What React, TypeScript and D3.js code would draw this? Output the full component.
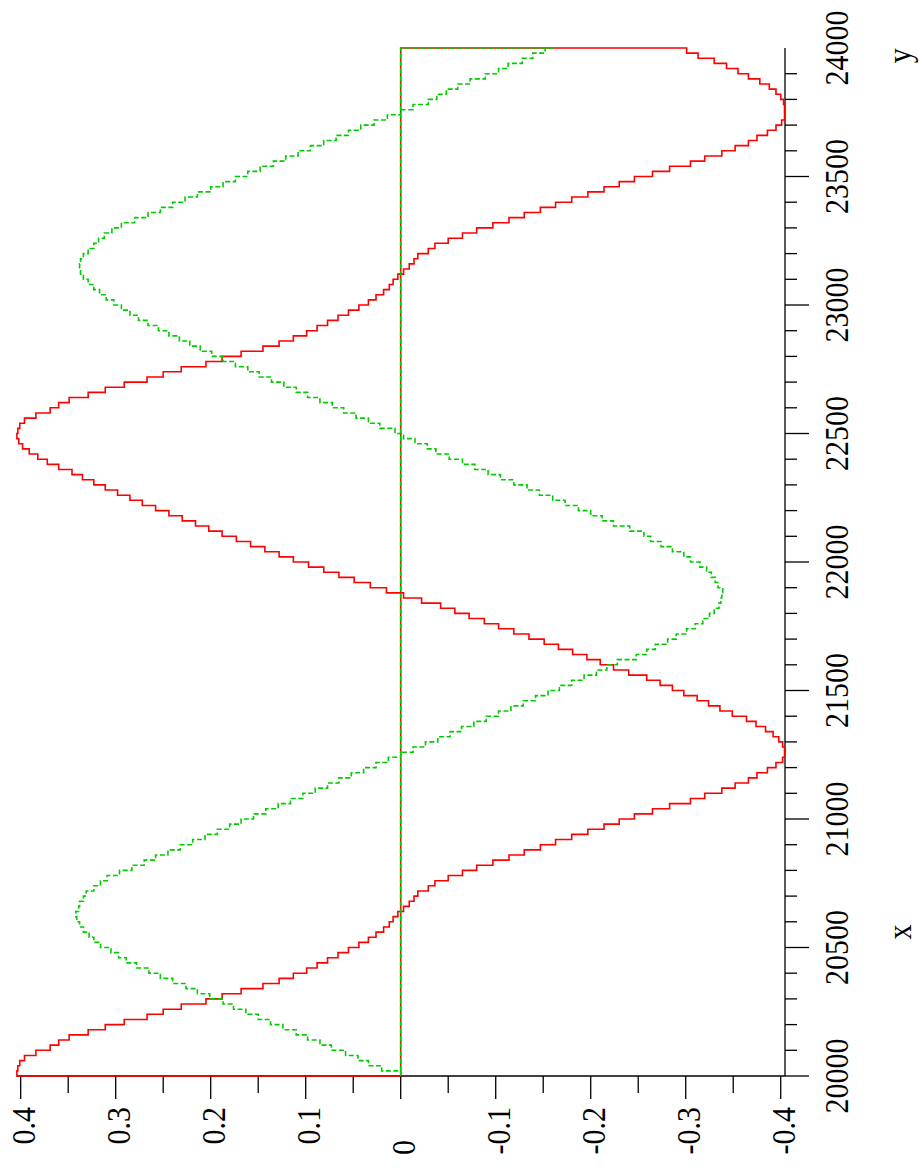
import React from 'react';
import * as d3 from 'd3';

const xStart = 20000;
const xStep = 20;

const redValues = [
  0.404, 0.403, 0.401, 0.396, 0.384, 0.369, 0.360, 0.349, 0.329, 0.311,
  0.291, 0.267, 0.250, 0.231, 0.205, 0.188, 0.168, 0.145, 0.128, 0.113,
  0.099, 0.088, 0.077, 0.066, 0.055, 0.044, 0.034, 0.026, 0.018, 0.012,
  0.008, 0.003, -0.003, -0.009, -0.014, -0.018, -0.029, -0.036, -0.050, -0.065,
  -0.080, -0.097, -0.114, -0.130, -0.147, -0.163, -0.180, -0.197, -0.214, -0.230,
  -0.246, -0.265, -0.283, -0.305, -0.320, -0.338, -0.352, -0.366, -0.375, -0.386,
  -0.395, -0.402, -0.404, -0.404, -0.402, -0.398, -0.392, -0.384, -0.374, -0.364,
  -0.349, -0.336, -0.324, -0.312, -0.298, -0.286, -0.273, -0.259, -0.240, -0.224,
  -0.210, -0.196, -0.181, -0.166, -0.151, -0.135, -0.119, -0.103, -0.088, -0.072,
  -0.057, -0.042, -0.022, -0.003, 0.015, 0.032, 0.049, 0.065, 0.081, 0.097,
  0.113, 0.128, 0.143, 0.158, 0.173, 0.188, 0.202, 0.216, 0.230, 0.244,
  0.258, 0.272, 0.285, 0.298, 0.311, 0.323, 0.335, 0.346, 0.360, 0.372,
  0.382, 0.391, 0.398, 0.402, 0.404, 0.403, 0.401, 0.396, 0.384, 0.369,
  0.360, 0.349, 0.329, 0.311, 0.291, 0.267, 0.250, 0.231, 0.205, 0.188,
  0.168, 0.145, 0.128, 0.113, 0.099, 0.088, 0.077, 0.066, 0.055, 0.044,
  0.034, 0.026, 0.018, 0.012, 0.008, 0.003, -0.003, -0.009, -0.014, -0.018,
  -0.029, -0.036, -0.050, -0.065, -0.080, -0.097, -0.114, -0.130, -0.147, -0.163,
  -0.180, -0.197, -0.214, -0.230, -0.246, -0.265, -0.283, -0.305, -0.320, -0.338,
  -0.352, -0.366, -0.375, -0.386, -0.395, -0.401, -0.404, -0.404, -0.404, -0.403,
  -0.400, -0.395, -0.388, -0.378, -0.366, -0.355, -0.343, -0.330, -0.313, -0.301,
  -0.285,
];

const greenValues = [
  0.000, 0.020, 0.034, 0.045, 0.058, 0.073, 0.085, 0.098, 0.110, 0.124,
  0.137, 0.150, 0.163, 0.176, 0.187, 0.201, 0.214, 0.226, 0.240, 0.253,
  0.265, 0.278, 0.289, 0.297, 0.305, 0.316, 0.323, 0.328, 0.334, 0.338,
  0.341, 0.342, 0.339, 0.338, 0.334, 0.331, 0.323, 0.316, 0.309, 0.296,
  0.283, 0.270, 0.258, 0.245, 0.232, 0.219, 0.206, 0.193, 0.180, 0.168,
  0.155, 0.142, 0.129, 0.116, 0.103, 0.090, 0.077, 0.065, 0.052, 0.039,
  0.026, 0.013, 0.000, -0.013, -0.026, -0.039, -0.052, -0.064, -0.077, -0.090,
  -0.103, -0.116, -0.129, -0.142, -0.155, -0.167, -0.180, -0.193, -0.206, -0.217,
  -0.228, -0.248, -0.259, -0.268, -0.281, -0.290, -0.301, -0.310, -0.318, -0.325,
  -0.330, -0.335, -0.337, -0.338, -0.339, -0.334, -0.331, -0.327, -0.322, -0.315,
  -0.305, -0.298, -0.286, -0.274, -0.263, -0.256, -0.241, -0.224, -0.212, -0.200,
  -0.187, -0.173, -0.160, -0.146, -0.133, -0.119, -0.105, -0.092, -0.078, -0.065,
  -0.051, -0.037, -0.028, -0.015, -0.003, 0.006, 0.022, 0.034, 0.047, 0.060,
  0.072, 0.085, 0.098, 0.110, 0.123, 0.136, 0.149, 0.161, 0.174, 0.187,
  0.199, 0.211, 0.222, 0.233, 0.244, 0.255, 0.266, 0.276, 0.285, 0.294,
  0.302, 0.310, 0.317, 0.323, 0.329, 0.334, 0.337, 0.338, 0.337, 0.334,
  0.329, 0.323, 0.318, 0.312, 0.304, 0.294, 0.280, 0.266, 0.253, 0.240,
  0.227, 0.214, 0.200, 0.187, 0.174, 0.161, 0.148, 0.134, 0.121, 0.108,
  0.095, 0.081, 0.068, 0.055, 0.042, 0.028, 0.014, 0.000, -0.013, -0.029,
  -0.038, -0.048, -0.060, -0.073, -0.089, -0.103, -0.113, -0.128, -0.139, -0.152,
  -0.162,
];

const xMajorTicks = [20000, 20500, 21000, 21500, 22000, 22500, 23000, 23500];
const xLabelTicks = [20000, 20500, 21000, 21500, 22000, 22500, 23000, 23500, 24000];
const xTickLabels = ['20000', '20500', '21000', '21500', '22000', '22500', '23000', '23500', '24000'];
const xMinorTicks = [
  20100, 20200, 20300, 20400, 20600, 20700, 20800, 20900,
  21100, 21200, 21300, 21400, 21600, 21700, 21800, 21900,
  22100, 22200, 22300, 22400, 22600, 22700, 22800, 22900,
  23100, 23200, 23300, 23400, 23600, 23700, 23800, 23900,
];
const yMajorTicks = [0.4, 0.3, 0.2, 0.1, 0, -0.1, -0.2, -0.3, -0.4];
const yTickLabels = ['0.4', '0.3', '0.2', '0.1', '0', '-0.1', '-0.2', '-0.3', '-0.4'];
const yMinorTicks = [0.35, 0.25, 0.15, 0.05, -0.05, -0.15, -0.25, -0.35];
const seriesNames = ['x', 'y'];
const seriesLabelPos = [20560, 23970];

const FONT = "'Liberation Serif', 'Times New Roman', 'DejaVu Serif', serif";

type Pt = { x: number; v: number };

export default function App() {
  const W = 919;
  const H = 1172;
  const xScale = d3.scaleLinear().domain([20000, 24000]).range([96, 1124]);
  const yScale = d3.scaleLinear().domain([-0.4045, 0.4042]).range([785, 16.7]);

  const toPts = (vals: number[]): Pt[] => {
    const last = xStart + (vals.length - 1) * xStep;
    return [
      { x: xStart, v: 0 },
      ...vals.map((v, i) => ({ x: xStart + i * xStep, v })),
      { x: last, v: 0 },
      { x: xStart, v: 0 },
    ];
  };

  const line = d3
    .line<Pt>()
    .x((d) => xScale(d.x))
    .y((d) => yScale(d.v))
    .curve(d3.curveStepAfter);

  const axisV = yScale.range()[0];
  const axisU = xScale.range()[0];
  const sy = 1.12;
  const textStyle = { fontFamily: FONT, fontSize: '30px' };

  return (
    <svg
      width={W}
      height={H}
      style={{ position: 'absolute', left: 0, top: 0, background: '#fff' }}
    >
      <g transform={`translate(0,${H}) rotate(-90)`}>
        <line x1={axisU} x2={xScale(24000)} y1={axisV} y2={axisV} stroke="#000" strokeWidth={1.3} />
        <line x1={axisU} x2={axisU} y1={yScale(0.4042)} y2={axisV} stroke="#000" strokeWidth={1.3} />
        {xMajorTicks.map((t) => (
          <line key={'xM' + t} x1={xScale(t)} x2={xScale(t)} y1={axisV} y2={axisV + 24} stroke="#000" strokeWidth={1.3} />
        ))}
        {xMinorTicks.map((t) => (
          <line key={'xm' + t} x1={xScale(t)} x2={xScale(t)} y1={axisV} y2={axisV + 12} stroke="#000" strokeWidth={1.3} />
        ))}
        {yMajorTicks.map((t) => (
          <line key={'yM' + t} x1={axisU} x2={axisU - 23} y1={yScale(t)} y2={yScale(t)} stroke="#000" strokeWidth={1.3} />
        ))}
        {yMinorTicks.map((t) => (
          <line key={'ym' + t} x1={axisU} x2={axisU - 17} y1={yScale(t)} y2={yScale(t)} stroke="#000" strokeWidth={1.3} />
        ))}

        <path d={line(toPts(redValues)) || ''} fill="none" stroke="#ff0000" strokeWidth={1.6} />
        <path
          d={line(toPts(greenValues)) || ''}
          fill="none"
          stroke="#00cc00"
          strokeWidth={1.6}
          strokeDasharray="5,2.5"
        />

        {xLabelTicks.map((t, i) => (
          <text
            key={'xl' + t}
            transform={`translate(${xScale(t)},848) scale(1,${sy})`}
            textAnchor="middle"
            style={textStyle}
            fill="#000"
          >
            {xTickLabels[i]}
          </text>
        ))}
        {yMajorTicks.map((t, i) => (
          <text
            key={'yl' + t}
            transform={`translate(${t === 0 ? 32 : 65},${yScale(t) + 14}) scale(1,${sy})`}
            textAnchor="end"
            style={textStyle}
            fill="#000"
          >
            {yTickLabels[i]}
          </text>
        ))}
        {seriesNames.map((s, i) => (
          <text
            key={'s' + s}
            transform={`translate(${xScale(seriesLabelPos[i])},911) scale(1,${sy})`}
            textAnchor="middle"
            style={textStyle}
            fill="#000"
          >
            {s}
          </text>
        ))}
      </g>
    </svg>
  );
}
